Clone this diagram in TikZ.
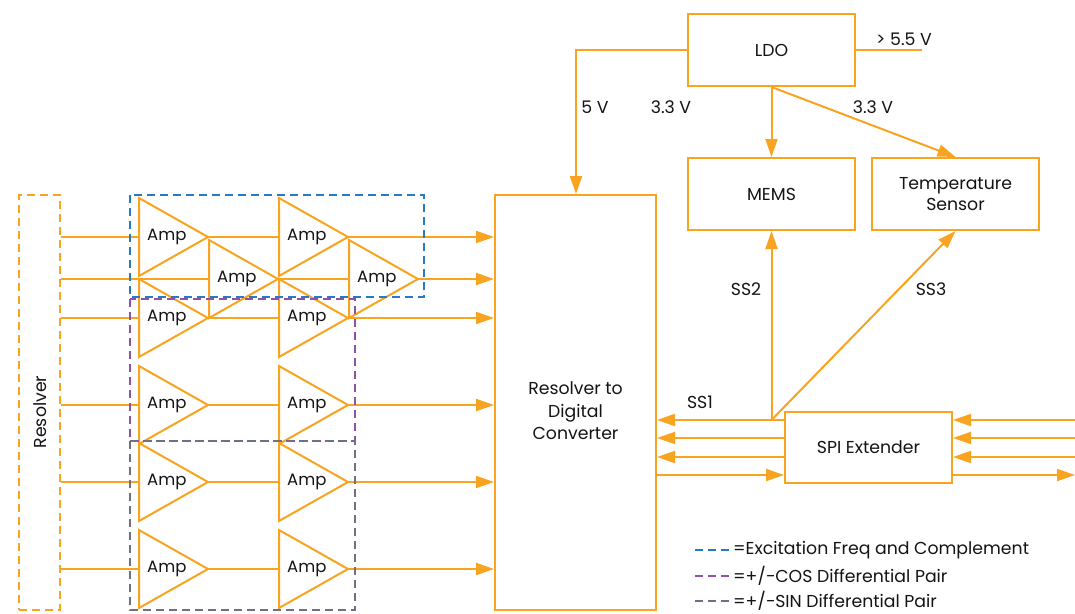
\documentclass[tikz,border=0pt]{standalone}
\usepackage{fontspec}
\setmainfont{Poppins}
\usetikzlibrary{arrows.meta}
\definecolor{org}{RGB}{248,164,32}
\definecolor{bl}{RGB}{40,122,196}
\definecolor{pu}{RGB}{142,82,168}
\definecolor{gr}{RGB}{110,112,132}
\definecolor{txt}{RGB}{20,20,20}
\begin{document}
\begin{tikzpicture}[x=1pt,y=-1pt,
  font=\fontsize{17.3}{21}\selectfont, text=txt,
  wire/.style={draw=org,line width=2pt},
  arr/.style={wire,-{Triangle[length=18pt,width=12pt]}},
  box/.style={draw=org,line width=2pt,minimum width=167pt,minimum height=72pt,inner sep=0pt,align=center},
  lbl/.style={inner sep=0pt},
  dbox/.style={line width=1.8pt,dash pattern=on 8pt off 5pt},
  amp/.pic={
    \draw[wire,line join=miter] (0,-39) -- (69,0) -- (0,39) -- cycle;
    \node[lbl,anchor=west,font=\fontsize{16.5}{20}\selectfont] (-t) at (8,0) {Amp};
    \coordinate (-in) at (0,0);
    \coordinate (-out) at (69,0);
  }]
\useasboundingbox[fill=white] (0,0) rectangle (1075,613);

% Resolver
\node[draw=org,line width=2pt,dash pattern=on 8pt off 5pt,minimum width=41pt,minimum height=415pt,inner sep=0pt] (res) at (39.5,402.5) {};
\node[lbl,rotate=90] (restxt) at (40,412) {Resolver};

% RDC
\node[draw=org,line width=2pt,minimum width=161pt,minimum height=415pt,inner sep=0pt] (rdc) at (575.5,402.5) {};
\node[lbl,align=center,font=\fontsize{17.3}{22.5}\selectfont] (rdctxt) at (575.5,411) {Resolver to\\Digital\\Converter};

% amps
\pic (a1) at (139,237) {amp};
\pic (b1) at (279,237) {amp};
\pic (a2) at (209,279) {amp};
\pic (b2) at (349,279) {amp};
\pic (a3) at (139,318) {amp};
\pic (b3) at (279,318) {amp};
\pic (a4) at (139,405) {amp};
\pic (b4) at (279,405) {amp};
\pic (a5) at (139,482) {amp};
\pic (b5) at (279,482) {amp};
\pic (a6) at (139,569) {amp};
\pic (b6) at (279,569) {amp};

\foreach \r in {1,...,6}{
  \draw[wire] (res.east |- a\r-in) -- (a\r-in);
  \draw[wire] (a\r-out) -- (b\r-in);
  \draw[arr] (b\r-out) -- (rdc.west |- b\r-out);
}

% dashed group boxes
\draw[bl,dbox] (130,195) rectangle (424,297);
\draw[pu,dbox] (130,299) rectangle (355,441);
\draw[gr,dbox] (130,441) rectangle (355,610);

% power
\node[box] (ldo) at (771.5,50) {LDO};
\node[box] (mems) at (771.5,194) {MEMS};
\node[box] (temp) at (955.5,194) {Temperature\\Sensor};
\coordinate (v5) at (576,50);
\coordinate (vin) at (922,50);
\draw[arr] (ldo.west) -- (v5) -- (v5 |- rdc.north);
\draw[wire] (ldo.east) -- (vin);
\draw[arr] (ldo.south) -- (mems.north);
\draw[arr] (ldo.south) -- (temp.north);
\node[lbl] (l5) at (595,107) {5 V};
\node[lbl] (l33a) at (671,107) {3.3 V};
\node[lbl] (l33b) at (873,107) {3.3 V};
\node[lbl] (l55) at (904,39) {> 5.5 V};

% SPI
\node[box,minimum height=71pt] (spi) at (868.5,447.5) {SPI Extender};
\coordinate (ss) at (771.5,420);
\coordinate (r1) at (1075,420);
\coordinate (r2) at (1075,438);
\coordinate (r3) at (1075,457);
\coordinate (r4) at (1075,475);
\draw[arr] (spi.west |- r1) -- (rdc.east |- r1);
\draw[arr] (spi.west |- r2) -- (rdc.east |- r2);
\draw[arr] (spi.west |- r3) -- (rdc.east |- r3);
\draw[arr] (rdc.east |- r4) -- (spi.west |- r4);
\draw[arr] (r1) -- (spi.east |- r1);
\draw[arr] (r2) -- (spi.east |- r2);
\draw[arr] (r3) -- (spi.east |- r3);
\draw[arr] (spi.east |- r4) -- (r4);
\draw[arr] (ss) -- (mems.south);
\draw[arr] (ss) -- (temp.south);
\node[lbl] (ss1) at (700,402) {SS1};
\node[lbl] (ss2) at (746,289) {SS2};
\node[lbl] (ss3) at (931,289) {SS3};

% legend
\draw[bl,dbox] (695,550) -- (731,550);
\draw[pu,dbox] (695,576) -- (731,576);
\draw[gr,dbox] (695,601) -- (731,601);
\node[lbl,anchor=west] (lg1) at (733,550) {=Excitation Freq and Complement};
\node[lbl,anchor=west] (lg2) at (733,576) {=+/−COS Differential Pair};
\node[lbl,anchor=west] (lg3) at (733,601) {=+/−SIN Differential Pair};
\end{tikzpicture}
\end{document}
